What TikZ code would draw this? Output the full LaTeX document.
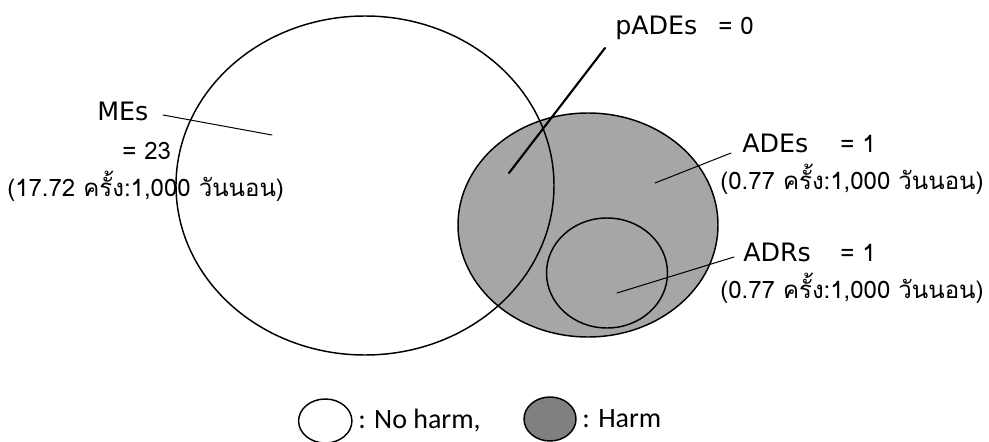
\documentclass[tikz,border=0pt]{standalone}
\usepackage{fontspec}
\setmainfont{DejaVu Sans}
\newfontfamily\thaifont[Script=Thai]{Loma}
\newfontfamily\keyfont{Carlito}
\usetikzlibrary{positioning,shapes.geometric}

\colorlet{harmfill}{black!35}
\colorlet{keyfill}{black!50}

\tikzset{
  setlabel/.style={anchor=base west,inner sep=0pt,font=\fontsize{19}{21}\selectfont},
  countlabel/.style={anchor=base west,inner sep=0pt,font=\thaifont\fontsize{18}{20}\selectfont},
  keytext/.style={inner sep=0pt,font=\keyfont\fontsize{21}{23}\selectfont},
  keyshape/.style={ellipse,draw,line width=1.1pt,minimum width=39pt,minimum height=33pt,inner sep=0pt},
  leader/.style={line width=0.75pt},
}

\begin{document}
\begin{tikzpicture}[x=0.75pt,y=-0.75pt,line cap=round,line join=round]
  \useasboundingbox (0,0) rectangle (989,442);

  % sets
  \filldraw[fill=harmfill,line width=1.1pt] (588,225) ellipse (130 and 112);
  \draw[line width=1.1pt] (365,185.5) ellipse (189 and 169.5);
  \draw[line width=1.1pt] (607,273) ellipse (60.5 and 55);

  % labels
  \node[setlabel] (mes) at (97,121) {MEs};
  \node[countlabel] (mesn) at (122,160) {= 23};
  \node[countlabel] (mesr) at (7,197) {(17.72 ครั้ง:1,000 วันนอน)};

  \node[setlabel] (pade) at (615,35) {pADEs};
  \node[countlabel] (paden) at (718,35) {= 0};

  \node[setlabel] (ade) at (742,153) {ADEs};
  \node[countlabel] (aden) at (840,153) {= 1};
  \node[countlabel] (ader) at (720,190) {(0.77 ครั้ง:1,000 วันนอน)};

  \node[setlabel] (adr) at (743,262) {ADRs};
  \node[countlabel] (adrn) at (840,262) {= 1};
  \node[countlabel] (adrr) at (720,298) {(0.77 ครั้ง:1,000 วันนอน)};

  % leader lines
  \coordinate (mesout) at (163,115);
  \coordinate (mesin) at (272,135);
  \coordinate (padeout) at (605,48);
  \coordinate (padein) at (509,173);
  \coordinate (adeout) at (731,153);
  \coordinate (adein) at (655,183);
  \coordinate (adrout) at (734,257);
  \coordinate (adrin) at (617,293);

  \draw[leader] (mesout) -- (mesin);
  \draw[line width=1.6pt] (padeout) -- (padein);
  \draw[leader] (adeout) -- (adein);
  \draw[leader] (adrout) -- (adrin);

  % key
  \node[keytext,anchor=west] (noharm) at (358,421) {: No harm,};
  \node[keyshape,minimum width=40pt,left=4pt of noharm] (nokey) {};
  \node[keyshape,fill=keyfill] (harmkey) at (550,419) {};
  \node[keytext,right=4pt of harmkey] (harm) {: Harm};
\end{tikzpicture}
\end{document}
